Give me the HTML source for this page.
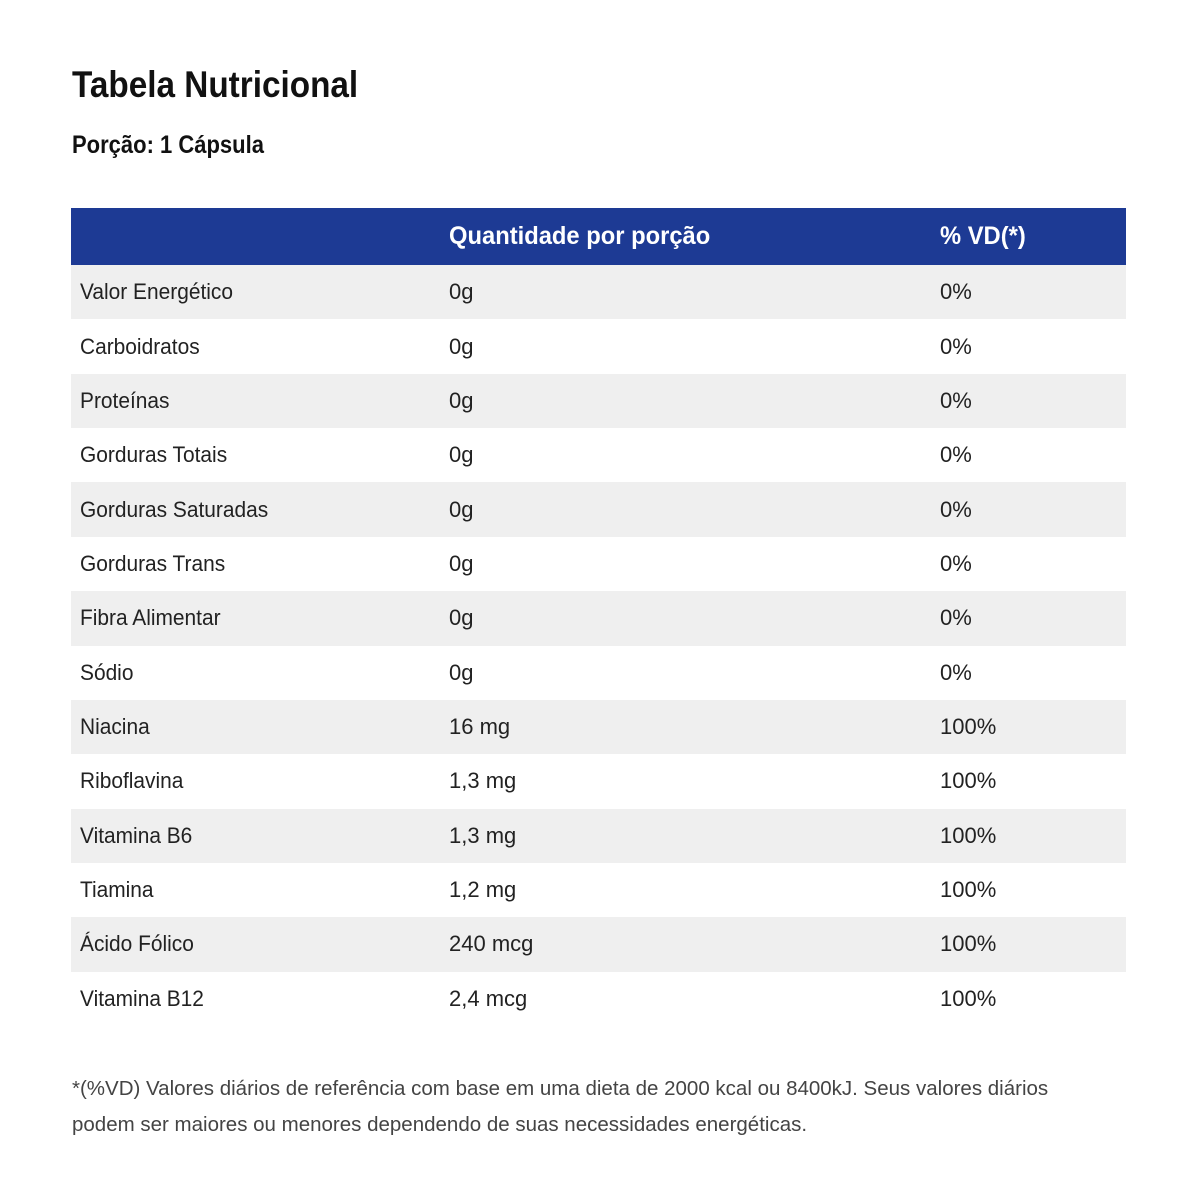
<!DOCTYPE html>
<html lang="pt">
<head>
<meta charset="utf-8">
<style>
  html,body{margin:0;padding:0;background:#fff;}
  body{width:1200px;height:1200px;position:relative;overflow:hidden;font-family:"Liberation Sans",sans-serif;color:#1a1a1a;}
  .title{position:absolute;left:72px;top:64px;font-size:37px;font-weight:bold;color:#111;white-space:nowrap;transform:scaleX(0.9);transform-origin:left;}
  .subtitle{position:absolute;left:72px;top:131px;font-size:25px;font-weight:bold;color:#111;white-space:nowrap;transform:scaleX(0.88);transform-origin:left;}
  table{position:absolute;left:71px;top:208px;width:1055px;border-collapse:collapse;}
  thead tr{background:#1d3a94;height:57px;}
  th{color:#fff;font-size:25px;font-weight:bold;text-align:left;padding:0;}
  tbody tr{height:54.36px;}
  tbody tr:nth-child(odd){background:#efefef;}
  td{font-size:22px;color:#222;padding:0;white-space:nowrap;}
  td.c1{padding-left:9px;width:369px;}
  td.c2{width:491px;}
  th.c1{width:378px;}
  th.c2{width:491px;}
  .n{display:inline-block;transform:scaleX(0.95);transform-origin:left;}
  .foot{position:absolute;left:72px;top:1071px;font-size:20.5px;color:#444;line-height:36px;white-space:nowrap;}
</style>
</head>
<body>
<div class="title">Tabela Nutricional</div>
<div class="subtitle">Porção: 1 Cápsula</div>
<table>
  <thead>
    <tr>
      <th class="c1"></th>
      <th class="c2"><span class="n">Quantidade por porção</span></th>
      <th><span class="n">% VD(*)</span></th>
    </tr>
  </thead>
  <tbody>
    <tr><td class="c1"><span class="n">Valor Energético</span></td><td class="c2">0g</td><td>0%</td></tr>
    <tr><td class="c1"><span class="n">Carboidratos</span></td><td class="c2">0g</td><td>0%</td></tr>
    <tr><td class="c1"><span class="n">Proteínas</span></td><td class="c2">0g</td><td>0%</td></tr>
    <tr><td class="c1"><span class="n">Gorduras Totais</span></td><td class="c2">0g</td><td>0%</td></tr>
    <tr><td class="c1"><span class="n">Gorduras Saturadas</span></td><td class="c2">0g</td><td>0%</td></tr>
    <tr><td class="c1"><span class="n">Gorduras Trans</span></td><td class="c2">0g</td><td>0%</td></tr>
    <tr><td class="c1"><span class="n">Fibra Alimentar</span></td><td class="c2">0g</td><td>0%</td></tr>
    <tr><td class="c1"><span class="n">Sódio</span></td><td class="c2">0g</td><td>0%</td></tr>
    <tr><td class="c1"><span class="n">Niacina</span></td><td class="c2">16 mg</td><td>100%</td></tr>
    <tr><td class="c1"><span class="n">Riboflavina</span></td><td class="c2">1,3 mg</td><td>100%</td></tr>
    <tr><td class="c1"><span class="n">Vitamina B6</span></td><td class="c2">1,3 mg</td><td>100%</td></tr>
    <tr><td class="c1"><span class="n">Tiamina</span></td><td class="c2">1,2 mg</td><td>100%</td></tr>
    <tr><td class="c1"><span class="n">Ácido Fólico</span></td><td class="c2">240 mcg</td><td>100%</td></tr>
    <tr><td class="c1"><span class="n">Vitamina B12</span></td><td class="c2">2,4 mcg</td><td>100%</td></tr>
  </tbody>
</table>
<div class="foot">*(%VD) Valores diários de referência com base em uma dieta de 2000 kcal ou 8400kJ. Seus valores diários<br>podem ser maiores ou menores dependendo de suas necessidades energéticas.</div>
</body>
</html>
